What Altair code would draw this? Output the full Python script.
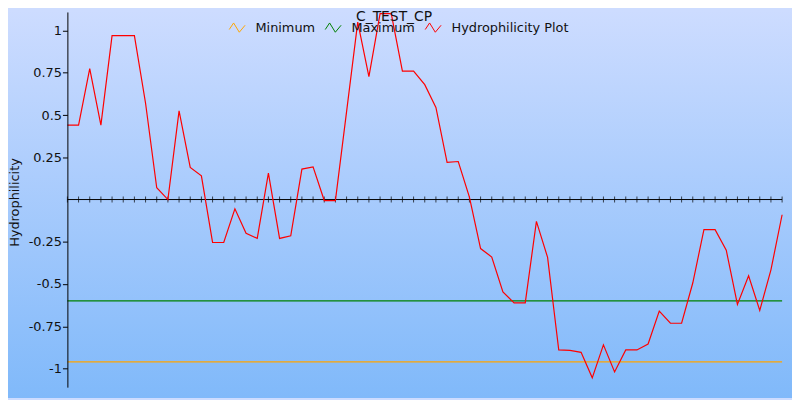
import altair as alt
import pandas as pd

# ---- data ----
hydro = [0.44, 0.44, 0.775, 0.44, 0.97, 0.97, 0.97, 0.57, 0.07, 0.0,
         0.525, 0.19, 0.14, -0.254, -0.254, -0.055, -0.2, -0.23, 0.156, -0.23,
         -0.215, 0.18, 0.193, -0.006, -0.006, 0.52, 1.05, 0.727, 1.10, 1.10,
         0.76, 0.76, 0.68, 0.545, 0.22, 0.225, 0.014, -0.29, -0.34, -0.547,
         -0.611, -0.611, -0.129, -0.342, -0.89, -0.893, -0.904, -1.055, -0.86, -1.02,
         -0.89, -0.89, -0.855, -0.66, -0.732, -0.732, -0.494, -0.178, -0.178, -0.30,
         -0.621, -0.451, -0.656, -0.416, -0.09]
positions = list(range(len(hydro)))
minimum_level = -0.96
maximum_level = -0.6
series_names = ["Minimum", "Maximum", "Hydrophilicity Plot"]
series_colors = ["#ffa500", "#008000", "#ff0000"]
y_ticks = [-1, -0.75, -0.5, -0.25, 0.25, 0.5, 0.75, 1]
chart_title = "C_TEST_CP"

rows = []
for p, v in zip(positions, hydro):
    rows.append({"pos": p, "value": minimum_level, "series": "Minimum"})
    rows.append({"pos": p, "value": maximum_level, "series": "Maximum"})
    rows.append({"pos": p, "value": v, "series": "Hydrophilicity Plot"})
df = pd.DataFrame(rows)
tick_df = pd.DataFrame({"pos": positions})

W, H = 722, 379
x_scale = alt.Scale(domain=[0, len(hydro) - 1], nice=False, zero=False)
y_scale = alt.Scale(domain=[-1.11, 1.11], nice=False, zero=False)

ZIGZAG = "M-1,0.25L-0.45,-0.58L0.27,0.59L1,-0.29"

gradient = {
    "gradient": "linear", "x1": 0, "y1": 0, "x2": 0, "y2": 1,
    "stops": [{"offset": 0, "color": "#cddcff"},
              {"offset": 1, "color": "#80b9fa"}],
}

one = pd.DataFrame({"a": [0]})

bg = alt.Chart(one).mark_rect(clip=False, fill=gradient).encode(
    x=alt.value(-60), x2=alt.value(W + 10), y=alt.value(-2), y2=alt.value(H + 11)
)

zero_rule = alt.Chart(one).mark_rule(color="black", strokeWidth=1).encode(
    x=alt.datum(0, scale=x_scale, axis=None),
    x2=alt.datum(len(hydro) - 1),
    y=alt.datum(0, scale=y_scale),
)

ticks = alt.Chart(tick_df).mark_tick(color="black", orient="vertical", size=6, thickness=1).encode(
    x=alt.X("pos:Q", scale=x_scale, axis=None),
    y=alt.datum(0, scale=y_scale),
)

lines = alt.Chart(df).mark_line(strokeWidth=1.2, interpolate="linear").encode(
    x=alt.X("pos:Q", scale=x_scale, axis=None),
    y=alt.Y("value:Q", scale=y_scale,
            axis=alt.Axis(title="Hydrophilicity", values=y_ticks, grid=False, zindex=2,
                          labelExpr="'' + datum.value",
                          domainColor="black", tickColor="black", tickSize=5,
                          labelPadding=1, labelFontSize=13, labelColor="#111",
                          titleFontSize=13, titleFontWeight="normal", titleColor="#111",
                          titleX=-49, titleY=192, titleBaseline="alphabetic")),
    color=alt.Color("series:N",
                    scale=alt.Scale(domain=series_names, range=series_colors),
                    sort=series_names,
                    legend=alt.Legend(title=None, orient="none", direction="horizontal",
                                      legendX=163, legendY=7, padding=0, zindex=3,
                                      symbolType=ZIGZAG, symbolSize=256,
                                      symbolStrokeWidth=1, symbolFillColor="transparent",
                                      labelFontSize=13, labelColor="#111",
                                      labelOffset=10, columnPadding=7)),
    detail="series:N",
)

title_text = alt.Chart(pd.DataFrame({"t": [chart_title]})).mark_text(
    fontSize=14, color="#111", align="center", baseline="alphabetic", clip=False
).encode(text="t:N", x=alt.value(330), y=alt.value(9))

chart = alt.layer(bg, zero_rule, ticks, lines, title_text).properties(
    width=W, height=H,
    autosize=alt.AutoSizeParams(type="none"),
    padding={"left": 60, "top": 2, "right": 10, "bottom": 11},
).configure(font="DejaVu Sans", background="#cddcff").configure_view(stroke=None)

chart.save("out.html", embed_options={"renderer": "svg", "actions": False})
